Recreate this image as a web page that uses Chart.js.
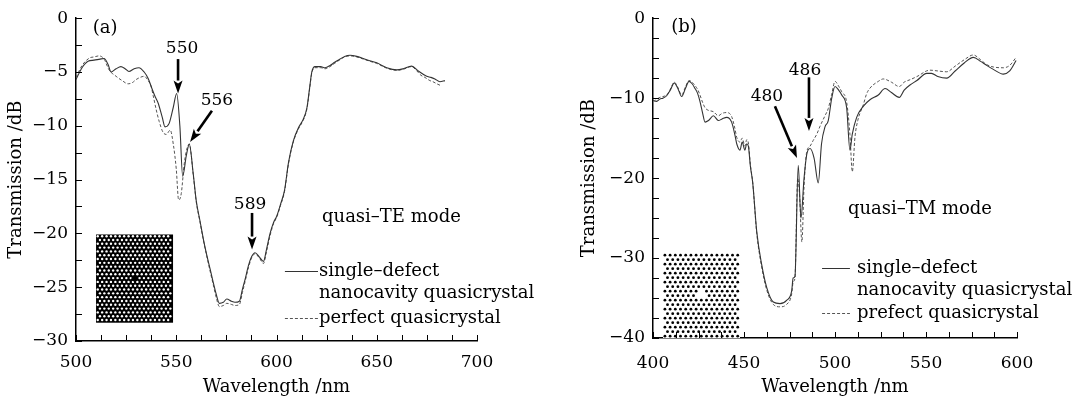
<!DOCTYPE html>
<html>
<head>
<meta charset="utf-8">
<script src="https://cdn.jsdelivr.net/npm/chart.js@4.4.1/dist/chart.umd.min.js"></script>
<style>
  html, body { margin: 0; padding: 0; background: #fff; }
  #wrap { position: relative; width: 1084px; height: 401px; }
  #boxA { position: absolute; left: 0; top: 0; width: 545px; height: 401px; }
  #boxB { position: absolute; left: 560px; top: 0; width: 524px; height: 401px; }
</style>
</head>
<body>
<div id="wrap">
  <div id="boxA"><canvas id="chartA"></canvas></div>
  <div id="boxB"><canvas id="chartB"></canvas></div>
</div>
<script>
// (a) quasi-TE, wavelength in nm, transmission in dB
const wlDefectA = [500, 503, 506, 509, 512, 514, 516, 517.5, 520, 522.4, 524.5, 526.4, 529, 531.4, 534, 536, 538, 539.5, 541, 543, 544.4, 546.4, 548.5, 550.2, 551.8, 553.2, 555, 556.5, 558.5, 560, 561.8, 563.5, 565.2, 567, 568.5, 570, 571.5, 573.5, 575.2, 577.5, 579.3, 581.5, 583, 584.3, 586, 587.5, 589.3, 591.5, 593.5, 595, 596.8, 598.5, 600.1, 602, 604, 606, 608.4, 610.9, 613.3, 615.2, 616.5, 617.6, 619.2, 622, 624.2, 626.7, 629, 631.7, 634, 636.7, 640, 643.3, 646.5, 650, 655, 660, 663.2, 667.4, 670.7, 674.9, 677, 679, 681.5, 684];
const tDefectA = [-5.7, -4.6, -4.0, -3.9, -3.8, -3.75, -4.3, -5.0, -4.7, -4.5, -4.7, -4.95, -4.7, -4.6, -5.0, -5.6, -6.6, -7.3, -7.9, -9.2, -10.1, -9.8, -8.3, -7.0, -10.0, -14.7, -12.8, -11.7, -14.5, -17.0, -18.8, -20.5, -22.0, -23.4, -24.6, -25.7, -26.5, -26.4, -26.1, -26.3, -26.4, -26.3, -25.2, -24.3, -23.0, -22.2, -21.8, -22.2, -22.6, -21.5, -20.0, -19.0, -18.4, -17.3, -16.0, -13.4, -11.4, -10.2, -9.4, -8.3, -6.5, -5.0, -4.5, -4.5, -4.6, -4.4, -4.1, -3.8, -3.55, -3.45, -3.55, -3.75, -3.95, -4.15, -4.6, -4.8, -4.7, -4.45, -4.9, -5.4, -5.5, -5.65, -5.9, -5.8];
const wlPerfectA = [500, 503, 506.7, 509, 511.5, 514, 516.5, 520, 523, 526, 528, 530, 532, 534, 536, 537.4, 538.5, 540, 541.5, 543.4, 545, 547, 548.6, 550, 551.2, 552.5, 554, 555.5, 556.5, 558.5, 560, 561.8, 563.5, 565.2, 567, 568.5, 570, 571.5, 573.5, 575.2, 577.5, 579.3, 581.5, 583, 584.3, 586, 587.5, 589.3, 591.5, 593.5, 595, 596.8, 598.5, 600.1, 602, 604, 606, 608.4, 610.9, 613.3, 615.2, 616.5, 617.6, 619.2, 622, 624.2, 626.7, 629, 631.7, 634, 636.7, 640, 643.3, 646.5, 650, 655, 660, 663.2, 667.4, 670, 672, 674, 676.5, 678, 680, 682.4];
const tPerfectA = [-5.5, -4.4, -3.7, -3.6, -3.5, -3.8, -4.8, -5.4, -5.8, -6.1, -6.0, -5.7, -5.5, -5.4, -5.8, -6.3, -7.2, -8.5, -9.6, -10.6, -10.8, -10.4, -11.8, -14.0, -16.9, -16.3, -13.5, -12.0, -11.7, -14.6, -17.1, -18.9, -20.6, -22.1, -23.6, -24.8, -26.0, -26.8, -26.7, -26.5, -26.6, -26.7, -26.6, -25.5, -24.5, -23.2, -22.3, -21.9, -22.3, -22.8, -21.7, -20.2, -19.1, -18.5, -17.4, -16.1, -13.5, -11.5, -10.3, -9.5, -8.4, -6.6, -5.1, -4.6, -4.6, -4.7, -4.5, -4.2, -3.85, -3.6, -3.5, -3.6, -3.8, -4.0, -4.2, -4.65, -4.85, -4.75, -4.5, -4.9, -5.3, -5.5, -5.8, -5.9, -6.1, -6.3];

// (b) quasi-TM
const wlDefectB = [400, 402, 403.8, 405.5, 407.5, 409.5, 411.7, 413.5, 415.8, 417.8, 419.8, 421.5, 423, 424.5, 425.8, 427.2, 428.6, 430.5, 433.2, 435.9, 438, 440.5, 443.2, 445, 446, 447.8, 449, 450.5, 451.5, 452.4, 453.5, 454.8, 457, 459.7, 462.5, 466.1, 469.8, 473.4, 476.2, 477, 478, 479.8, 481.3, 483, 484.5, 486.3, 488.5, 490.8, 492.6, 494.5, 496.3, 498.2, 500, 502, 503.7, 506.4, 508.2, 509.5, 511.9, 515.6, 519.2, 523.8, 527.5, 531, 535.3, 538, 541.2, 545, 550.4, 553, 556.5, 561.4, 566, 571, 576, 580, 583.3, 587, 592.5, 596, 599.5];
const tDefectB = [-10.3, -10.4, -10.1, -10.0, -9.7, -9.0, -8.1, -8.7, -9.8, -8.8, -7.9, -8.2, -8.75, -9.4, -10.4, -11.8, -13.0, -12.8, -12.2, -12.8, -12.6, -12.4, -13.0, -14.6, -15.7, -16.5, -15.5, -16.5, -15.7, -16.0, -18.5, -20.6, -26.7, -30.8, -33.7, -35.5, -35.7, -35.3, -34.1, -32.5, -32.3, -18.4, -25.0, -20.0, -17.0, -16.3, -17.5, -20.6, -15.7, -13.6, -12.8, -10.0, -8.55, -9.0, -9.6, -11.2, -16.5, -14.5, -12.4, -11.0, -10.2, -9.6, -8.8, -9.3, -9.9, -9.0, -8.35, -7.8, -6.9, -6.9, -7.3, -7.5, -6.6, -5.6, -4.9, -5.4, -5.9, -6.4, -7.0, -6.6, -5.3];
const wlPerfectB = [400, 402, 403.8, 405.5, 407.5, 409.5, 411.7, 413.5, 415.8, 417.8, 419.8, 421.5, 423, 424.5, 425.8, 427.2, 428.6, 430.2, 433.2, 435.9, 438, 440.5, 443.2, 445, 446, 447.8, 449, 450.5, 451.5, 452.4, 453.5, 454.8, 457, 459.7, 462.5, 466.1, 469.8, 473.4, 476.2, 477, 478, 479.5, 480.5, 481.8, 483, 484.4, 486.3, 488, 490, 491.8, 494.5, 496.3, 498.2, 500, 502, 503.7, 506.4, 508.2, 509.5, 511, 512.5, 515.6, 517.3, 519.2, 523.8, 526.5, 531, 535.3, 538, 541.2, 545, 552.2, 556.5, 561.4, 566, 571, 576, 580, 583.3, 587, 592.5, 596, 599.5];
const tPerfectB = [-10.0, -10.1, -9.9, -9.8, -9.6, -8.9, -8.0, -8.6, -9.6, -8.6, -7.8, -8.0, -8.4, -8.9, -9.6, -10.5, -11.2, -11.5, -11.7, -12.2, -11.9, -11.8, -12.3, -13.8, -14.9, -15.5, -15.0, -16.0, -15.2, -15.6, -18.3, -20.6, -26.9, -31.1, -34.0, -35.8, -36.1, -35.8, -34.5, -33.0, -32.5, -20.0, -22.0, -28.0, -21.0, -16.8, -16.0, -15.3, -14.5, -13.5, -12.2, -11.3, -9.5, -7.9, -8.5, -9.2, -10.5, -14.5, -19.2, -14.8, -12.8, -10.8, -9.5, -8.75, -7.9, -7.6, -8.0, -8.55, -8.0, -7.7, -7.3, -6.5, -6.6, -6.7, -6.0, -5.2, -4.6, -5.2, -5.8, -6.1, -6.2, -5.9, -4.9];

// tick labels
const xTicksA = [500, 550, 600, 650, 700];
const yTicksA = [0, -5, -10, -15, -20, -25, -30];
const xTicksB = [400, 450, 500, 550, 600];
const yTicksB = [0, -10, -20, -30, -40];

const FONT = '"DejaVu Serif", "Liberation Serif", serif';
const SOLID = '#333333';
const DASHED = '#555555';

function pts(xs, ys) {
  return xs.map((x, i) => ({ x: x, y: ys[i] }));
}

function fmt(v) {
  return v < 0 ? '\u2212' + Math.abs(v) : String(v);
}

function drawArrow(ctx, x0, y0, x1, y1) {
  const ang = Math.atan2(y1 - y0, x1 - x0);
  const hl = 13, hw = 4.5;
  const bx = x1 - hl * Math.cos(ang), by = y1 - hl * Math.sin(ang);
  ctx.beginPath();
  ctx.moveTo(x0, y0);
  ctx.lineTo(bx, by);
  ctx.lineWidth = 2.6;
  ctx.strokeStyle = '#000';
  ctx.stroke();
  ctx.beginPath();
  ctx.moveTo(x1, y1);
  ctx.lineTo(bx + hw * Math.sin(ang), by - hw * Math.cos(ang));
  ctx.lineTo(x1 - (hl - 3) * Math.cos(ang), y1 - (hl - 3) * Math.sin(ang));
  ctx.lineTo(bx - hw * Math.sin(ang), by + hw * Math.cos(ang));
  ctx.closePath();
  ctx.fillStyle = '#000';
  ctx.fill();
}

// inset picture, inside ticks, arrows, labels, legend
function makeDecor(cfg) {
  return {
    id: 'decor',
    beforeDatasetsDraw(chart) {
      const ctx = chart.ctx, xs = chart.scales.x, ys = chart.scales.y;
      const ins = cfg.inset;
      const x0 = xs.getPixelForValue(ins.x[0]), x1 = xs.getPixelForValue(ins.x[1]);
      const y0 = ys.getPixelForValue(ins.y[0]), y1 = ys.getPixelForValue(ins.y[1]);
      ctx.save();
      ctx.fillStyle = ins.bg;
      ctx.fillRect(x0, y0, x1 - x0, y1 - y0);
      ctx.fillStyle = ins.dot;
      const cx = (x0 + x1) / 2, cy = (y0 + y1) / 2;
      const rowH = ins.gap * Math.sqrt(3) / 2;
      let row = 0;
      for (let y = y0 + ins.r + 0.5; y < y1 - ins.r; y += rowH, row++) {
        const shift = row % 2 ? ins.gap / 2 : 0;
        for (let x = x0 + ins.r + 0.5 + shift; x < x1 - ins.r; x += ins.gap) {
          if (Math.hypot(x - cx, y - cy) < ins.hole) continue;
          ctx.beginPath();
          ctx.arc(x, y, ins.r, 0, Math.PI * 2);
          ctx.fill();
        }
      }
      if (ins.spot) {
        ctx.beginPath();
        ctx.arc(cx, cy, ins.spot, 0, Math.PI * 2);
        ctx.fillStyle = ins.bg;
        ctx.fill();
      }
      ctx.restore();
    },
    afterDraw(chart) {
      const ctx = chart.ctx, xs = chart.scales.x, ys = chart.scales.y;
      const area = chart.chartArea;
      ctx.save();
      // inside ticks
      ctx.strokeStyle = '#000';
      ctx.lineWidth = 1;
      ctx.beginPath();
      for (let v = xs.min; v <= xs.max + 1e-6; v += cfg.minorX) {
        const p = Math.round(xs.getPixelForValue(v)) + 0.5;
        ctx.moveTo(p, area.bottom);
        ctx.lineTo(p, area.bottom - 6);
      }
      for (let v = ys.min; v <= ys.max + 1e-6; v += cfg.minorY) {
        const p = Math.round(ys.getPixelForValue(v)) + 0.5;
        ctx.moveTo(area.left, p);
        ctx.lineTo(area.left + 6, p);
      }
      ctx.stroke();
      // arrows
      cfg.arrows.forEach(a => {
        drawArrow(ctx, xs.getPixelForValue(a[0]), ys.getPixelForValue(a[1]),
          xs.getPixelForValue(a[2]), ys.getPixelForValue(a[3]));
      });
      // labels
      ctx.fillStyle = '#000';
      ctx.textBaseline = 'middle';
      cfg.labels.forEach(l => {
        ctx.font = l[4] + 'px ' + FONT;
        ctx.textAlign = l[3];
        ctx.fillText(l[0], xs.getPixelForValue(l[1]), ys.getPixelForValue(l[2]));
      });
      // legend
      const lg = cfg.legend;
      ctx.textAlign = 'left';
      ctx.font = '18px ' + FONT;
      lg.rows.forEach(r => {
        const y = ys.getPixelForValue(r[0]);
        if (r[2]) {
          ctx.beginPath();
          ctx.setLineDash(r[2] === 'dash' ? [3, 2] : []);
          ctx.strokeStyle = r[2] === 'dash' ? DASHED : SOLID;
          ctx.lineWidth = 1;
          ctx.moveTo(xs.getPixelForValue(lg.x[0]), Math.round(y) + 0.5);
          ctx.lineTo(xs.getPixelForValue(lg.x[1]), Math.round(y) + 0.5);
          ctx.stroke();
          ctx.setLineDash([]);
        }
        ctx.fillStyle = '#000';
        ctx.fillText(r[1], xs.getPixelForValue(lg.textX), y);
      });
      ctx.restore();
    }
  };
}

function makeChart(id, d, opt) {
  return new Chart(document.getElementById(id), {
    type: 'line',
    data: {
      datasets: [
        {
          label: 'single-defect nanocavity quasicrystal',
          data: pts(d.wl1, d.t1),
          borderColor: SOLID,
          borderWidth: 1.1,
          pointRadius: 0,
          cubicInterpolationMode: 'monotone',
          fill: false
        },
        {
          label: 'perfect quasicrystal',
          data: pts(d.wl2, d.t2),
          borderColor: DASHED,
          borderWidth: 1,
          borderDash: [3, 2],
          pointRadius: 0,
          cubicInterpolationMode: 'monotone',
          fill: false
        }
      ]
    },
    options: {
      responsive: true,
      maintainAspectRatio: false,
      animation: false,
      devicePixelRatio: 1,
      layout: { padding: opt.padding },
      plugins: { legend: { display: false }, tooltip: { enabled: false } },
      scales: {
        x: {
          type: 'linear',
          min: opt.xRange[0],
          max: opt.xRange[1],
          afterBuildTicks: s => { s.ticks = opt.xTicks.map(v => ({ value: v })); },
          afterFit: s => { s.height = opt.xHeight; },
          grid: { display: false, drawTicks: false },
          border: { display: true, color: '#000', width: 1.5 },
          ticks: { color: '#000', font: { family: FONT, size: 17 }, padding: opt.xPad, maxRotation: 0, autoSkip: false },
          title: { display: true, text: 'Wavelength /nm', color: '#000', font: { family: FONT, size: 18 }, padding: { top: 0, bottom: 3 } }
        },
        y: {
          type: 'linear',
          min: opt.yRange[0],
          max: opt.yRange[1],
          afterBuildTicks: s => { s.ticks = opt.yTicks.map(v => ({ value: v })); },
          afterFit: s => { s.width = opt.yWidth; },
          grid: { display: false, drawTicks: false },
          border: { display: true, color: '#000', width: 1.5 },
          ticks: { color: '#000', font: { family: FONT, size: 17 }, padding: 8, callback: v => fmt(v) },
          title: { display: true, text: 'Transmission /dB', color: '#000', font: { family: FONT, size: 18 }, padding: { top: opt.yTitlePad, bottom: 0 } }
        }
      }
    },
    plugins: [makeDecor(opt.decor)]
  });
}

makeChart('chartA', { wl1: wlDefectA, t1: tDefectA, wl2: wlPerfectA, t2: tPerfectA }, {
  padding: { left: 0, top: 11, right: 68, bottom: 0 },
  xRange: [500, 700], yRange: [-30, 0],
  xTicks: xTicksA, yTicks: yTicksA,
  xHeight: 60, yWidth: 76, xPad: 11, yTitlePad: 6,
  decor: {
    inset: { x: [510, 548.4], y: [-20.1, -28.3], bg: '#000', dot: '#fff', gap: 4.4, r: 1.2, hole: 3, spot: 3 },
    minorX: 12.5, minorY: 2.5,
    arrows: [[550.9, -3.8, 550.9, -7.0], [567.8, -8.6, 556.9, -11.5], [587.8, -18.1, 587.8, -21.5]],
    labels: [
      ['550', 552.9, -2.8, 'center', 17],
      ['556', 570.3, -7.7, 'center', 17],
      ['589', 586.8, -17.3, 'center', 17],
      ['(a)', 514.5, -0.9, 'center', 18],
      ['quasi\u2013TE mode', 622.7, -18.5, 'left', 18]
    ],
    legend: {
      x: [604.2, 620.7], textX: 621.2,
      rows: [[-23.5, 'single\u2013defect', 'solid'], [-25.6, 'nanocavity quasicrystal', null], [-27.9, 'perfect quasicrystal', 'dash']]
    }
  }
});

makeChart('chartB', { wl1: wlDefectB, t1: tDefectB, wl2: wlPerfectB, t2: tPerfectB }, {
  padding: { left: 0, top: 12, right: 67, bottom: 0 },
  xRange: [400, 600], yRange: [-40, 0],
  xTicks: xTicksB, yTicks: yTicksB,
  xHeight: 63, yWidth: 93, xPad: 15, yTitlePad: 19,
  decor: {
    inset: { x: [405.5, 447.8], y: [-29.4, -40], bg: '#fff', dot: '#000', gap: 5.2, r: 1.4, hole: 4.5, spot: 0 },
    minorX: 12.5, minorY: 2.5,
    arrows: [[467, -11.0, 479.1, -17.5], [485.7, -7.4, 485.7, -14.1]],
    labels: [
      ['480', 462.6, -9.8, 'center', 17],
      ['486', 483.5, -6.5, 'center', 17],
      ['(b)', 417, -1.1, 'center', 18],
      ['quasi\u2013TM mode', 507.1, -23.9, 'left', 18]
    ],
    legend: {
      x: [492.9, 508.2], textX: 512.1,
      rows: [[-31.3, 'single\u2013defect', 'solid'], [-34.0, 'nanocavity quasicrystal', null], [-36.9, 'prefect quasicrystal', 'dash']]
    }
  }
});
</script>
</body>
</html>
